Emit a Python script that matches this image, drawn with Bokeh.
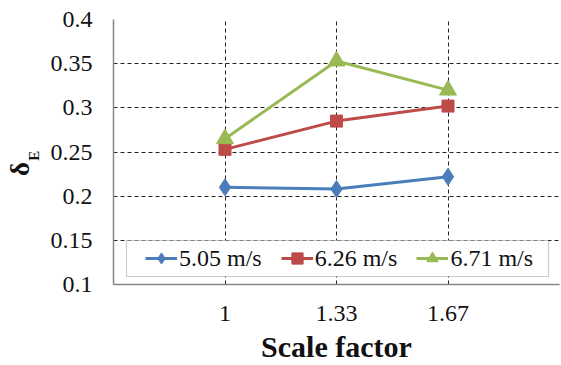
from bokeh.plotting import figure
from bokeh.models import FixedTicker, Range1d, Legend, LegendItem, LinearAxis, BoxAnnotation
from bokeh.embed import file_html
from bokeh.resources import INLINE

# ---- data ----
scale_factors = ["1", "1.33", "1.67"]
series_names = ["5.05 m/s", "6.26 m/s", "6.71 m/s"]
delta_505 = [0.210, 0.208, 0.222]
delta_626 = [0.253, 0.285, 0.302]
delta_671 = [0.265, 0.353, 0.320]
y_ticks = [0.1, 0.15, 0.2, 0.25, 0.3, 0.35, 0.4]
y_tick_labels = ["0.1", "0.15", "0.2", "0.25", "0.3", "0.35", "0.4"]

xpos = [i + 1 for i in range(len(scale_factors))]
FONT = "Liberation Serif"
RFONT = "Times New Roman"
TXT = "#111111"
NB = "\u00a0"

p = figure(width=561, height=365, output_backend="svg", toolbar_location=None,
           x_range=Range1d(0, len(scale_factors) + 1), y_range=Range1d(y_ticks[0], y_ticks[-1]),
           min_border_left=113, min_border_right=2, min_border_top=19, min_border_bottom=79)
p.outline_line_color = None
p.background_fill_color = "white"
p.border_fill_color = "white"

# grid
p.xgrid.ticker = FixedTicker(ticks=xpos + [len(scale_factors) + 1])
p.ygrid.ticker = FixedTicker(ticks=y_ticks[1:])
for g in (p.xgrid, p.ygrid):
    g.grid_line_color = "#222222"
    g.grid_line_dash = "4 3"
    g.grid_line_width = 1

# axes
p.xaxis.ticker = FixedTicker(ticks=xpos)
p.xaxis.major_label_overrides = {x: s for x, s in zip(xpos, scale_factors)}
p.yaxis.ticker = FixedTicker(ticks=y_ticks)
p.yaxis.major_label_overrides = {v: s for v, s in zip(y_ticks, y_tick_labels)}
for ax in (p.xaxis[0], p.yaxis[0]):
    ax.axis_line_color = "#868686"
    ax.axis_line_width = 1.5
    ax.major_tick_in = 0
    ax.major_tick_out = 0
    ax.minor_tick_in = 0
    ax.minor_tick_out = 0
    ax.major_label_text_font = RFONT
    ax.major_label_text_font_size = "24px"
    ax.major_label_text_font_style = "normal"
    ax.major_label_text_color = TXT
    ax.axis_label_text_font = FONT
    ax.axis_label_text_font_style = "bold"
    ax.axis_label_text_color = TXT
p.yaxis[0].major_label_standoff = 21
p.xaxis[0].major_label_standoff = 21
p.xaxis[0].axis_label = "Scale factor"
p.xaxis[0].axis_label_text_font_size = "30px"
p.xaxis[0].axis_label_standoff = 6

# y axis title: delta with subscript E (E on inner axis, delta on outer axis)
p.yaxis[0].axis_label = "E" + NB * 2
p.yaxis[0].axis_label_text_font_size = "15px"
p.yaxis[0].axis_label_standoff = 6
outer = LinearAxis(ticker=FixedTicker(ticks=[]), axis_label="δ" + NB * 5,
                   axis_line_color=None, major_tick_in=0, major_tick_out=0,
                   minor_tick_in=0, minor_tick_out=0, major_label_text_font_size="0px",
                   axis_label_text_font=FONT, axis_label_text_font_style="bold",
                   axis_label_text_font_size="27px", axis_label_text_color=TXT,
                   axis_label_standoff=-12)
p.add_layout(outer, "left")

colors = ["#4a7ebb", "#be4b48", "#98b954"]
markers = ["diamond", "square", "triangle"]
sizes = [17, 12, 17]
items = []
for name, vals, c, m, s in zip(series_names, [delta_505, delta_626, delta_671], colors, markers, sizes):
    ln = p.line(xpos, vals, line_color=c, line_width=3)
    sc = p.scatter(xpos, vals, marker=m, size=s, fill_color=c, line_color=c)
    items.append(LegendItem(label=name, renderers=[ln, sc]))

# legend frame
p.add_layout(BoxAnnotation(left=13, right=435, bottom=8, top=44,
                           left_units="screen", right_units="screen",
                           bottom_units="screen", top_units="screen",
                           fill_color="white", fill_alpha=1.0,
                           line_color="#555555", line_width=1.2, level="overlay"))

legend = Legend(items=items, orientation="horizontal", location=(32, 12),
                label_text_font=RFONT, label_text_font_style="normal",
                label_text_font_size="24px", label_text_color=TXT,
                glyph_width=32, glyph_height=28, label_height=28, label_standoff=2, spacing=19,
                padding=0, margin=0, border_line_color=None,
                background_fill_alpha=0.0)
p.add_layout(legend)

open("out.html", "w").write(file_html(p, INLINE))
